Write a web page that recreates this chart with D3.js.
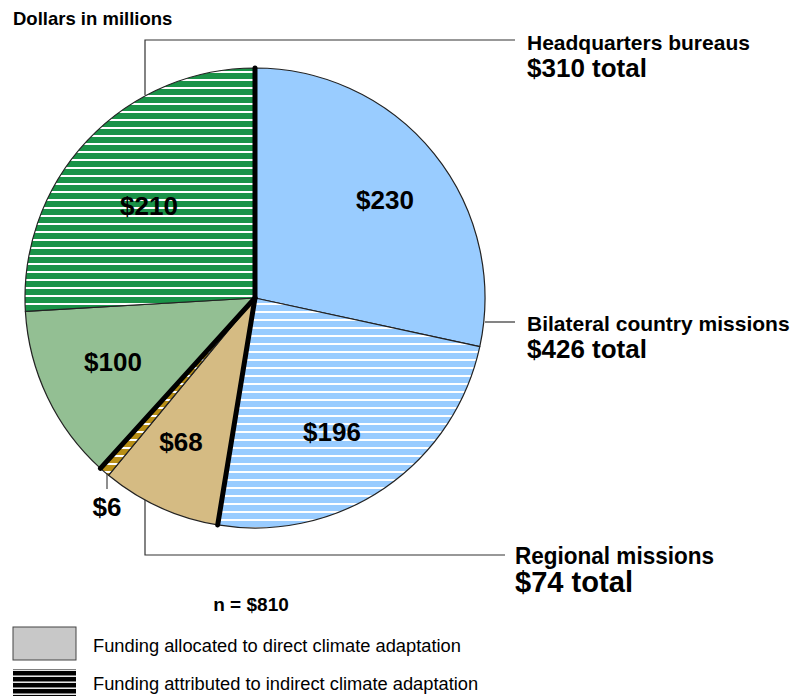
<!DOCTYPE html>
<html>
<head>
<meta charset="utf-8">
<script src="https://cdn.jsdelivr.net/npm/d3@7"></script>
<style>
  body { margin: 0; background: #fff; }
  text { font-family: Arial, "Liberation Sans", sans-serif; fill: #000; }
</style>
</head>
<body>
<svg id="chart" width="794" height="696"></svg>
<script>
var slices = ["Bilateral direct", "Bilateral indirect", "Regional direct", "Regional indirect", "HQ direct", "HQ indirect"];
var values = [230, 196, 68, 6, 100, 210];
var groups = ["bilateral", "bilateral", "regional", "regional", "hq", "hq"];
var hatched = [false, true, false, true, false, true];
var colors = ["#99ccff", "#99ccff", "#d5bb83", "#b88f16", "#93bf93", "#1a9348"];
var groupNames = ["Headquarters bureaus", "Bilateral country missions", "Regional missions"];
var groupTotals = [310, 426, 74];
var legendLabels = ["Funding allocated to direct climate adaptation", "Funding attributed to indirect climate adaptation"];

var svg = d3.select("#chart"),
    cx = 255, cy = 298, r = 230;

var defs = svg.append("defs");
colors.forEach(function(c, i) {
  var p = defs.append("pattern")
      .attr("id", "hatch" + i)
      .attr("patternUnits", "userSpaceOnUse")
      .attr("width", 8).attr("height", 8);
  p.append("rect").attr("width", 8).attr("height", 8).attr("fill", c);
  p.append("rect").attr("y", 5).attr("width", 8).attr("height", 2).attr("fill", "#fff");
});
var lp = defs.append("pattern")
    .attr("id", "hatchLegend")
    .attr("patternUnits", "userSpaceOnUse")
    .attr("width", 8).attr("height", 6);
lp.append("rect").attr("width", 8).attr("height", 6).attr("fill", "#000");
lp.append("rect").attr("y", 3.5).attr("width", 8).attr("height", 1.4).attr("fill", "#fff");

var pie = d3.pie().sort(null).value(d => d)(values);
var arc = d3.arc().innerRadius(0).outerRadius(r);

var g = svg.append("g").attr("transform", "translate(" + cx + "," + cy + ")");

g.selectAll(".slice")
    .data(pie)
    .enter().append("path")
    .attr("class", "slice")
    .attr("d", arc)
    .attr("fill", (d, i) => hatched[i] ? "url(#hatch" + i + ")" : colors[i])
    .attr("stroke", "#222")
    .attr("stroke-width", 1.2)
    .attr("stroke-linejoin", "round");

// thick group separators
var sepAngles = [];
pie.forEach(function(d, i) {
  var next = (i + 1) % pie.length;
  if (groups[i] !== groups[next]) sepAngles.push(d.endAngle);
});
g.selectAll(".sep")
    .data(sepAngles)
    .enter().append("line")
    .attr("x1", 0).attr("y1", 0)
    .attr("x2", a => r * Math.sin(a))
    .attr("y2", a => -r * Math.cos(a))
    .attr("stroke", "#000")
    .attr("stroke-width", 5)
    .attr("stroke-linecap", "round");

// slice labels
var labelPos = [[130, -89], [77, 143], [-74, 153], [-148, 218], [-142, 73], [-106, -83]];
g.selectAll(".lbl")
    .data(pie)
    .enter().append("text")
    .attr("x", (d, i) => labelPos[i][0])
    .attr("y", (d, i) => labelPos[i][1])
    .attr("text-anchor", "middle")
    .style("font-size", "26px")
    .style("font-weight", "bold")
    .text(d => "$" + d.data);

// $6 leader
g.append("line")
    .attr("x1", -148).attr("y1", 176).attr("x2", -148).attr("y2", 191)
    .attr("stroke", "#444").attr("stroke-width", 1.2);

// group leaders
var leaders = [
  [[145, 95], [145, 40], [515, 40]],
  [[485, 322], [515, 322]],
  [[145, 500], [145, 555], [505, 555]]
];
svg.selectAll(".leader")
    .data(leaders)
    .enter().append("path")
    .attr("d", d => d3.line()(d))
    .attr("fill", "none")
    .attr("stroke", "#333")
    .attr("stroke-width", 1.2);

var groupPos = [[527, 50], [527, 331], [515, 564]];
groupNames.forEach(function(n, i) {
  var narrow = i === 2;
  var t = svg.append("text")
      .attr("x", groupPos[i][0]).attr("y", groupPos[i][1])
      .style("font-weight", "bold");
  var t1 = t.append("tspan").style("font-size", narrow ? "24px" : "21px").text(n);
  var t2 = t.append("tspan").attr("x", groupPos[i][0]).attr("dy", narrow ? 28 : 27)
      .style("font-size", narrow ? "29px" : "26px").text("$" + groupTotals[i] + " total");
  if (narrow) {
    t1.attr("textLength", 199).attr("lengthAdjust", "spacingAndGlyphs");
    t2.attr("textLength", 118).attr("lengthAdjust", "spacingAndGlyphs");
  }
});

svg.append("text").attr("x", 13).attr("y", 25)
    .style("font-size", "18.5px").style("font-weight", "bold")
    .text("Dollars in millions");

svg.append("text").attr("x", 251).attr("y", 611)
    .attr("text-anchor", "middle")
    .style("font-size", "19px").style("font-weight", "bold")
    .text("n = $" + d3.sum(values));

// legend
svg.append("rect").attr("x", 13).attr("y", 627).attr("width", 63).attr("height", 33)
    .attr("fill", "#c8c8c8").attr("stroke", "#444").attr("stroke-width", 1);
svg.append("rect").attr("x", 13).attr("y", 669).attr("width", 63).attr("height", 29)
    .attr("fill", "url(#hatchLegend)");
legendLabels.forEach(function(l, i) {
  svg.append("text").attr("x", 93).attr("y", 652 + i * 38)
      .style("font-size", "18.3px").text(l);
});
</script>
</body>
</html>
